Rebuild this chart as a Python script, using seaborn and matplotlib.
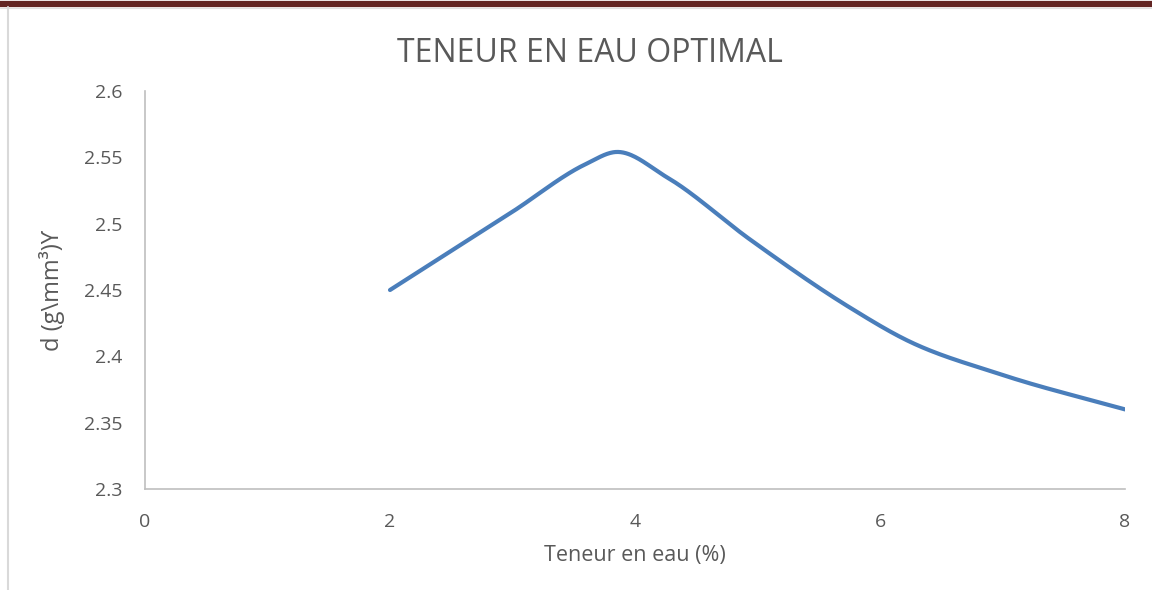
import seaborn as sns
import matplotlib.pyplot as plt
import matplotlib.lines as mlines
import numpy as np
import pandas as pd

sns.set_style("white")
plt.rcParams['font.family'] = ['Open Sans', 'DejaVu Sans']

# data
teneur = [2, 3, 3.6, 3.84, 4.26, 4.94, 5.75, 6.2, 7, 8]
densite = [2.45, 2.509, 2.545, 2.554, 2.535, 2.488, 2.437, 2.413, 2.386, 2.36]


def smooth(x, y, n=40):
    # cubic Hermite curve through the points, like Excel's "smoothed line"
    x = np.asarray(x, float)
    y = np.asarray(y, float)
    h = np.diff(x)
    d = np.diff(y) / h
    m = np.empty_like(y)
    m[0], m[-1] = d[0], d[-1]
    m[1:-1] = (h[1:] * d[:-1] + h[:-1] * d[1:]) / (h[:-1] + h[1:])
    xs, ys = [], []
    t = np.linspace(0, 1, n)
    for i in range(len(x) - 1):
        h00 = 2 * t ** 3 - 3 * t ** 2 + 1
        h10 = t ** 3 - 2 * t ** 2 + t
        h01 = -2 * t ** 3 + 3 * t ** 2
        h11 = t ** 3 - t ** 2
        xs.extend(x[i] + t * h[i])
        ys.extend(h00 * y[i] + h10 * h[i] * m[i] + h01 * y[i + 1] + h11 * h[i] * m[i + 1])
    return np.array(xs), np.array(ys)


sx, sy = smooth(teneur, densite)
data = pd.DataFrame({"x": sx, "y": sy})

fig = plt.figure(figsize=(11.52, 5.9), dpi=100)
ax = fig.add_axes([145 / 1152, 1 - 489 / 590, 980 / 1152, 398 / 590])

sns.lineplot(data=data, x="x", y="y", ax=ax, color="#4A7EBB", linewidth=3, sort=False)

ax.set_xlim(0, 8)
ax.set_ylim(2.3, 2.6)
ax.set_xticks([0, 2, 4, 6, 8])
ax.set_yticks([2.3, 2.35, 2.4, 2.45, 2.5, 2.55, 2.6])
ax.set_yticklabels(["2.3", "2.35", "2.4", "2.45", "2.5", "2.55", "2.6"])
ax.tick_params(length=0, labelsize=14, colors="#595959")
ax.tick_params(axis="x", pad=17)
ax.tick_params(axis="y", pad=16)

for s in ["top", "right"]:
    ax.spines[s].set_visible(False)
for s in ["left", "bottom"]:
    ax.spines[s].set_color("#BFBFBF")
    ax.spines[s].set_linewidth(1.2)

ax.set_xlabel("Teneur en eau (%)", fontsize=15.5, color="#595959", labelpad=10)
ax.set_ylabel("d (g\\mm³)ϒ", fontsize=17, color="#595959", labelpad=14)

fig.text(590 / 1152, 1 - 53 / 590, "TENEUR EN EAU OPTIMAL", fontsize=23,
         color="#595959", ha="center", va="center")

# page decoration: dark red band at top and thin grey margin line
fig.add_artist(mlines.Line2D([0, 1], [1 - 4 / 590, 1 - 4 / 590], color="#632523",
                             linewidth=4.5, transform=fig.transFigure))
fig.add_artist(mlines.Line2D([0, 1], [1 - 7.5 / 590, 1 - 7.5 / 590], color="#E0E0E0",
                             linewidth=0.8, transform=fig.transFigure))
fig.add_artist(mlines.Line2D([7.5 / 1152, 7.5 / 1152], [0, 1 - 7 / 590], color="#D9D9D9",
                             linewidth=1.5, transform=fig.transFigure))

plt.savefig("out.png", dpi=100)
plt.close()
